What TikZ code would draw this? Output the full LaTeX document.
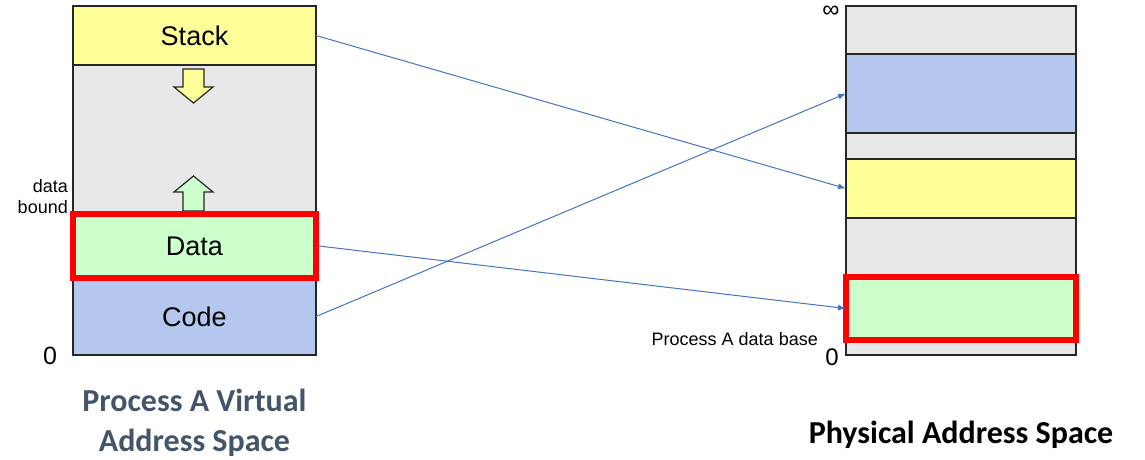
\documentclass[tikz,border=0pt]{standalone}
\usepackage{fontspec}
\setmainfont{Liberation Sans}
\newfontfamily\titlefont{Carlito}
\usetikzlibrary{arrows.meta}

\definecolor{memgray}{HTML}{E8E8E8}
\definecolor{stackyellow}{HTML}{FFFF99}
\definecolor{datagreen}{HTML}{CCFFCC}
\definecolor{codeblue}{HTML}{B4C7EF}
\definecolor{edge}{HTML}{262626}
\definecolor{hired}{HTML}{FF0000}
\definecolor{mapblue}{HTML}{4472C4}
\definecolor{slate}{HTML}{44546A}

\begin{document}
\begin{tikzpicture}[x=1pt,y=-1pt,
  seg/.style={draw=edge, line width=1.5pt, inner sep=0pt, outer sep=0pt},
  hl/.style={draw=hired, line width=6pt, fill=datagreen, inner sep=0pt, outer sep=0pt},
  segtext/.style={font=\fontsize{27}{32}\selectfont},
  small/.style={font=\fontsize{18}{21}\selectfont, inner sep=0pt},
  digit/.style={font=\fontsize{25}{30}\selectfont, inner sep=0pt},
  blockarrow/.style={draw=edge, line width=1.2pt, line join=miter},
  map/.style={draw=mapblue, line width=1pt, -{Latex[length=8pt,width=6pt]}},
  title/.style={font=\titlefont\bfseries\fontsize{32}{40}\selectfont, inner sep=0pt, align=center}]
\useasboundingbox (0,0) rectangle (1145,459);

% ---- virtual address space of process A ----
\node[seg, fill=memgray, minimum width=243pt, minimum height=349pt] (vspace) at (194.5,180.5) {};
\node[seg, fill=stackyellow, minimum width=243pt, minimum height=59pt, segtext] (stack) at (194.5,35.5) {Stack};
\node[seg, fill=codeblue, minimum width=243pt, minimum height=77pt, segtext] (code) at (194.5,316.5) {Code};

% growth directions of stack and heap
\filldraw[blockarrow, fill=stackyellow]
  (183,69) -- (204,69) -- (204,87) -- (213,87) -- (193.5,103) -- (174,87) -- (183,87) -- cycle;
\filldraw[blockarrow, fill=datagreen]
  (183,211) -- (204,211) -- (204,192) -- (213,192) -- (193.5,176) -- (174,192) -- (183,192) -- cycle;

\node[hl, outer sep=3pt, minimum width=243pt, minimum height=64pt, segtext] (data) at (194.5,246) {Data};

\node[small, align=right, anchor=east] (bound) at (68,197) {data\\bound};
\node[digit] (vzero) at (50,356) {0};

% ---- physical address space ----
\node[seg, fill=memgray, minimum width=230pt, minimum height=349pt] (pspace) at (961,180.5) {};
\node[seg, fill=codeblue, minimum width=230pt, minimum height=79pt] (pcode) at (961,93.5) {};
\node[seg, fill=stackyellow, minimum width=230pt, minimum height=59pt] (pstack) at (961,188.5) {};
\node[hl, minimum width=230pt, minimum height=63pt] (pdata) at (961,308.5) {};

\node[inner sep=0pt, font=\fontsize{24}{28}\selectfont] (pinf) at (831,12) {∞};
\node[digit, font=\fontsize{24}{28}\selectfont] (pzero) at (832,357) {0};
\node[small, anchor=base east] (pbase) at (818,345) {Process A data base};

% ---- translation of each segment ----
\draw[map] (stack.east) -- (pstack.west);
\draw[map] (data.east) -- (pdata.west);
\draw[map] (code.east) -- (pcode.west);

% ---- captions ----
\node[title, text=slate, anchor=north] (vtitle) at (194.5,389) {Process A Virtual\\Address Space};
\node[title, anchor=base] (ptitle) at (961,443) {Physical Address Space};
\end{tikzpicture}
\end{document}
